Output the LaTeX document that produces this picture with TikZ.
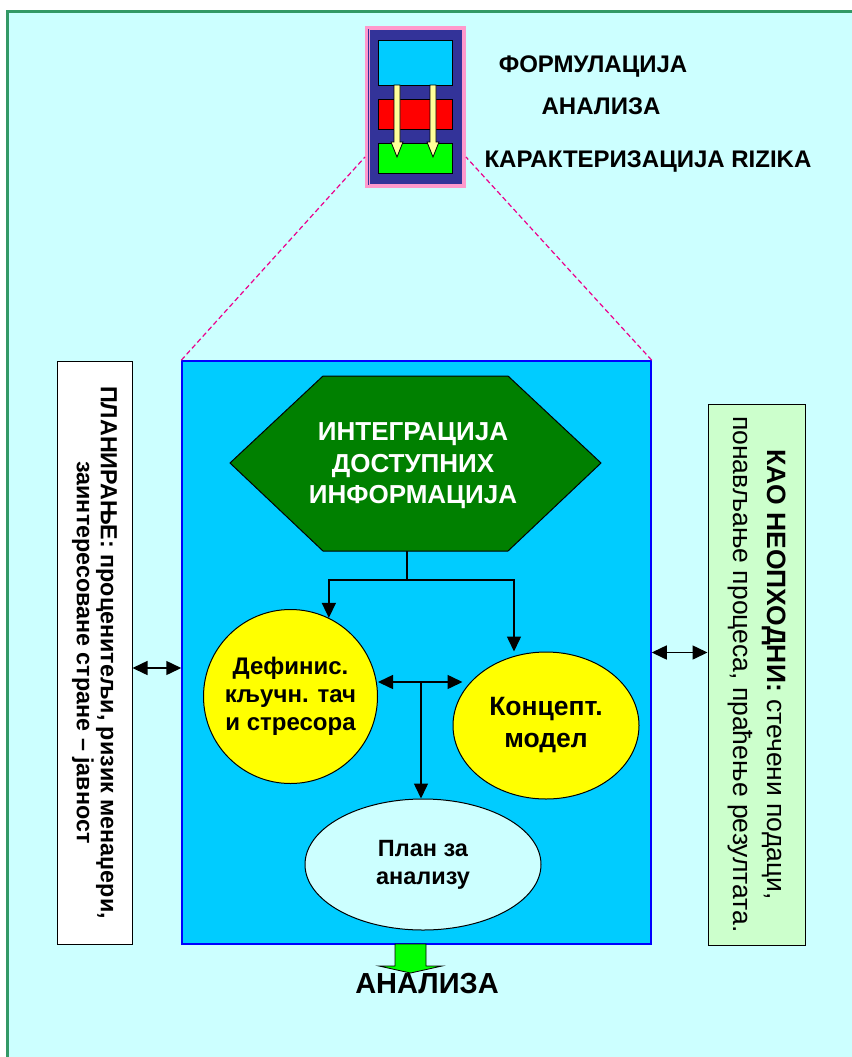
\documentclass[tikz,border=0pt]{standalone}
\usepackage{fontspec}
\setmainfont{Liberation Sans}
\usetikzlibrary{arrows.meta,shapes.geometric}

\definecolor{bgcyan}{HTML}{CCFFFF}
\definecolor{framegreen}{HTML}{339966}
\definecolor{boxcyan}{HTML}{00CCFF}
\definecolor{navyc}{HTML}{333399}
\definecolor{pinkc}{HTML}{FF99CC}
\definecolor{barred}{HTML}{FF0000}
\definecolor{bargreen}{HTML}{00FF00}
\definecolor{lightyellow}{HTML}{FFFF99}
\definecolor{hexgreen}{HTML}{008000}
\definecolor{bubbleyellow}{HTML}{FFFF00}
\definecolor{lightgreen}{HTML}{CCFFCC}

\tikzset{
  arr/.style={-{Triangle[length=15pt,width=14pt]}, line width=1.5pt},
  dbl/.style={{Triangle[length=15pt,width=14pt]}-{Triangle[length=15pt,width=14pt]}, line width=1.5pt},
  title/.style={font=\bfseries\fontsize{24}{28}\selectfont},
  bar/.style={draw=black, line width=1pt, minimum width=74, inner sep=0pt},
  bubble/.style={draw=black, line width=1pt, fill=bubbleyellow, align=center, inner sep=0pt},
  sidebox/.style={draw=black, line width=1pt, rotate=-90, minimum width=583, align=center, inner sep=0pt},
  zoomline/.style={magenta, line width=1.2pt, dash pattern=on 5pt off 3pt}
}

\begin{document}
\begin{tikzpicture}[x=1pt,y=-1pt]
\useasboundingbox (0,0) rectangle (851,1057);
\fill[white] (0,0) rectangle (851,1057);
\draw[framegreen, line width=3pt, fill=bgcyan] (7,12) rectangle (870,1075);

% small icon at the top
\node (icon) [draw=pinkc, line width=3pt, fill=navyc, minimum width=98, minimum height=159] at (415.5,107) {};
\draw[pinkc, line width=1pt] ([shift={(4,4)}]icon.north west) rectangle ([shift={(-4,-4)}]icon.south east);
\node (phase1) [bar, fill=boxcyan, minimum height=44] at (415,63) {};
\node (phase2) [bar, fill=barred, minimum height=30] at (415,114) {};
\node (phase3) [bar, fill=bargreen, minimum height=30] at (415,158) {};
\foreach \x in {397,433}
  \draw[fill=lightyellow, line width=0.8pt] (\x-3,85) -- ++(0,57) -- ++(-3,0) -- ++(6,15) -- ++(6,-15) -- ++(-3,0) -- ++(0,-57) -- cycle;

\node (formul) [title] at (593,67) {ФОРМУЛАЦИЈА};
\node (anal) [title] at (601,106) {АНАЛИЗА};
\node (karakt) [title] at (648,162) {КАРАКТЕРИЗАЦИЈА RIZIKA};

% main box
\node (main) [draw=blue, line width=1.5pt, fill=boxcyan, minimum width=469, minimum height=583] at (416.5,652.5) {};
\draw[zoomline] (main.north west) -- ([yshift=-50pt]icon.west);
\draw[zoomline] (main.north east) -- ([yshift=-50pt]icon.east);

% hexagon
\draw[fill=hexgreen, line width=1pt] (230,463) -- (323,376) -- (508,376) -- (601,463) -- (508,551) -- (323,551) -- cycle;
\node (integr) [text=white, align=center, font=\bfseries\fontsize{26}{31.5}\selectfont] at (413,466) {ИНТЕГРАЦИЈА\\ДОСТУПНИХ\\ИНФОРМАЦИЈА};

\node (defin) [bubble, circle, minimum size=174, font=\bfseries\fontsize{24}{28}\selectfont] at (290.5,696.5) {Дефинис.\\кључн. тач\\и стресора};
\node (konc) [bubble, ellipse, minimum width=186, minimum height=147, font=\bfseries\fontsize{26.5}{32}\selectfont] at (546,725.5) {Концепт.\\модел};
\node (plan) [bubble, ellipse, fill=bgcyan, minimum width=236, minimum height=131, font=\bfseries\fontsize{23.5}{28}\selectfont] at (423,864.5) {План за\\анализу};

% connectors
\coordinate (branch) at (407,580);
\coordinate (split) at (421,682);
\draw[line width=1.5pt] (branch |- 0,551) -- (branch);
\draw[arr] (branch) -| (defin.64);
\draw[arr] (branch) -| ([xshift=-32pt]konc.north);
\draw[dbl] (split -| defin.east) -- ([xshift=10pt]split -| konc.west);
\draw[arr] (split) -- (split |- plan.north);

% side boxes
\node (planir) [sidebox, fill=white, minimum height=75, font=\bfseries\fontsize{23.3}{24}\selectfont] at (94.5,652.5) {ПЛАНИРАЊЕ: проценитељи, ризик менаџери,\\заинтересоване стране – јавност};
\node (kao) [sidebox, fill=lightgreen, minimum width=541, minimum height=97, font=\fontsize{26.5}{34}\selectfont] at (756.5,674.5) {\textbf{КАО НЕОПХОДНИ:} стечени подаци,\\понављање процеса, праћење резултата.};
\draw[dbl] ([yshift=-15.5pt]main.west) -- ([yshift=-15.5pt]main.west -| planir.north);
\draw[dbl] (main.east) -- (main.east -| kao.south);

% result
\draw[fill=bargreen, line width=0.8pt] (395,944) -- ++(0,22) -- ++(-16,0) -- ++(31.5,7) -- ++(31.5,-7) -- ++(-16,0) -- ++(0,-22) -- cycle;
\node (result) [font=\bfseries\fontsize{29}{32}\selectfont] at (427,984) {АНАЛИЗА};
\end{tikzpicture}
\end{document}
